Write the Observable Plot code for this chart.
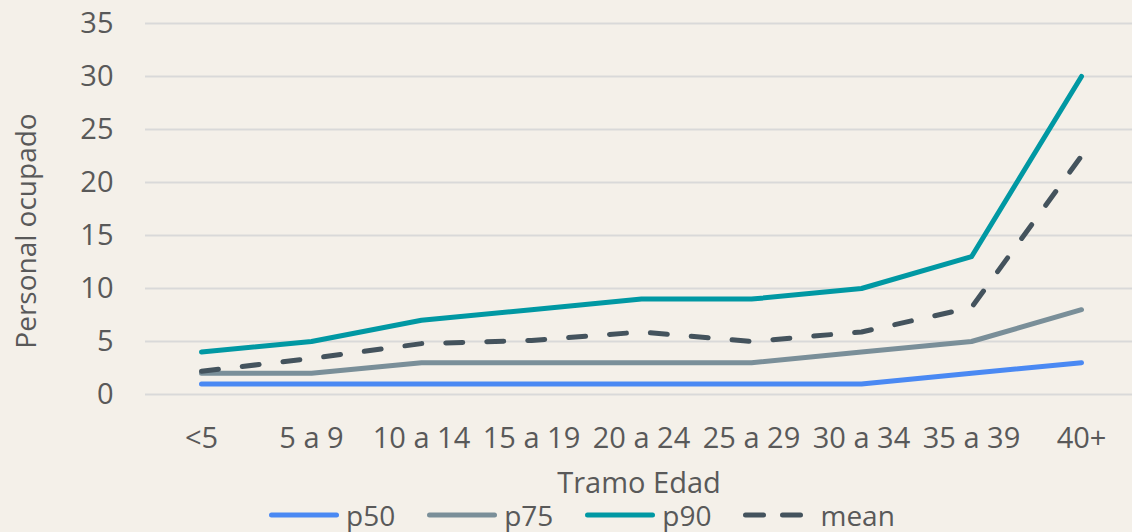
<!DOCTYPE html>
<html>
<head>
<meta charset="utf-8">
<script src="https://cdn.jsdelivr.net/npm/d3@7"></script>
<script src="https://cdn.jsdelivr.net/npm/@observablehq/plot@0.6"></script>
<style>
  html, body { margin: 0; padding: 0; background: #F4F0E9; }
  body { width: 1132px; height: 532px; overflow: hidden; font-family: "Open Sans", "Noto Sans", sans-serif; position: relative; }
  #chart { position: absolute; left: 0; top: 0; }
  #legend { position: absolute; left: 269px; top: 498px; display: flex; align-items: center; height: 34px; font-size: 28px; line-height: 34px; color: #595959; }
  .item { display: flex; align-items: center; margin-right: 32px; }
  .item svg { margin-right: 7px; }
</style>
</head>
<body>
<div id="chart"></div>
<div id="legend"></div>
<script>
const categories = ["<5", "5 a 9", "10 a 14", "15 a 19", "20 a 24", "25 a 29", "30 a 34", "35 a 39", "40+"];
const p50 = [1, 1, 1, 1, 1, 1, 1, 2, 3];
const p75 = [2, 2, 3, 3, 3, 3, 4, 5, 8];
const p90 = [4, 5, 7, 8, 9, 9, 10, 13, 30];
const mean = [2.2, 3.4, 4.8, 5.1, 5.9, 5.0, 5.9, 8.2, 22.5];
const yTicks = [0, 5, 10, 15, 20, 25, 30, 35];

const seriesDefs = [
  {name: "p50", values: p50, color: "#4A89F3", dash: null},
  {name: "p75", values: p75, color: "#7A8F99", dash: null},
  {name: "p90", values: p90, color: "#0098A3", dash: null},
  {name: "mean", values: mean, color: "#44535D", dash: "17,24"}
];

const rows = seriesDefs.flatMap(s => categories.map((c, i) => ({series: s.name, cat: c, value: s.values[i]})));

const chart = Plot.plot({
  width: 1132,
  height: 498,
  marginLeft: 145,
  marginRight: 0,
  marginTop: 23,
  marginBottom: 104,
  style: {background: "transparent", overflow: "visible", fontFamily: "'Open Sans', 'Noto Sans', sans-serif", fontSize: "29px", color: "#595959"},
  x: {type: "point", domain: categories, range: [200, 1082], padding: 0, label: null},
  y: {domain: [0, 35], ticks: yTicks, label: null},
  marks: [
    Plot.ruleY(yTicks, {stroke: "#D9D9D9", strokeWidth: 2}),
    Plot.axisY({ticks: yTicks, tickSize: 0, tickPadding: 32, fontSize: 29, fill: "#595959", label: null}),
    Plot.axisX({tickSize: 0, tickPadding: 33, fontSize: 29, fill: "#595959", label: null}),
    Plot.text(["Tramo Edad"], {frameAnchor: "bottom", dy: 98, fontSize: 29, fill: "#595959"}),
    Plot.text(["Personal ocupado"], {frameAnchor: "left", textAnchor: "middle", dx: -118, dy: 22, rotate: -90, fontSize: 28, fill: "#595959"}),
    ...seriesDefs.map(s => Plot.line(rows.filter(r => r.series === s.name), {
      x: "cat", y: "value", stroke: s.color, strokeWidth: 5,
      strokeLinecap: "round", strokeLinejoin: "round",
      strokeDasharray: s.dash
    }))
  ]
});
document.getElementById("chart").appendChild(chart);

const legend = d3.select("#legend");
seriesDefs.forEach(s => {
  const item = legend.append("div").attr("class", "item");
  const w = s.dash ? 65 : 70;
  const svg = item.append("svg").attr("width", s.dash ? w + 5 : w).attr("height", 12);
  svg.append("line").attr("x1", 2.5).attr("x2", w - 2.5).attr("y1", 6).attr("y2", 6)
    .attr("stroke", s.color).attr("stroke-width", 5).attr("stroke-linecap", "round")
    .attr("stroke-dasharray", s.dash ? "18,19" : null);
  item.append("span").text(s.name);
});
</script>
</body>
</html>
